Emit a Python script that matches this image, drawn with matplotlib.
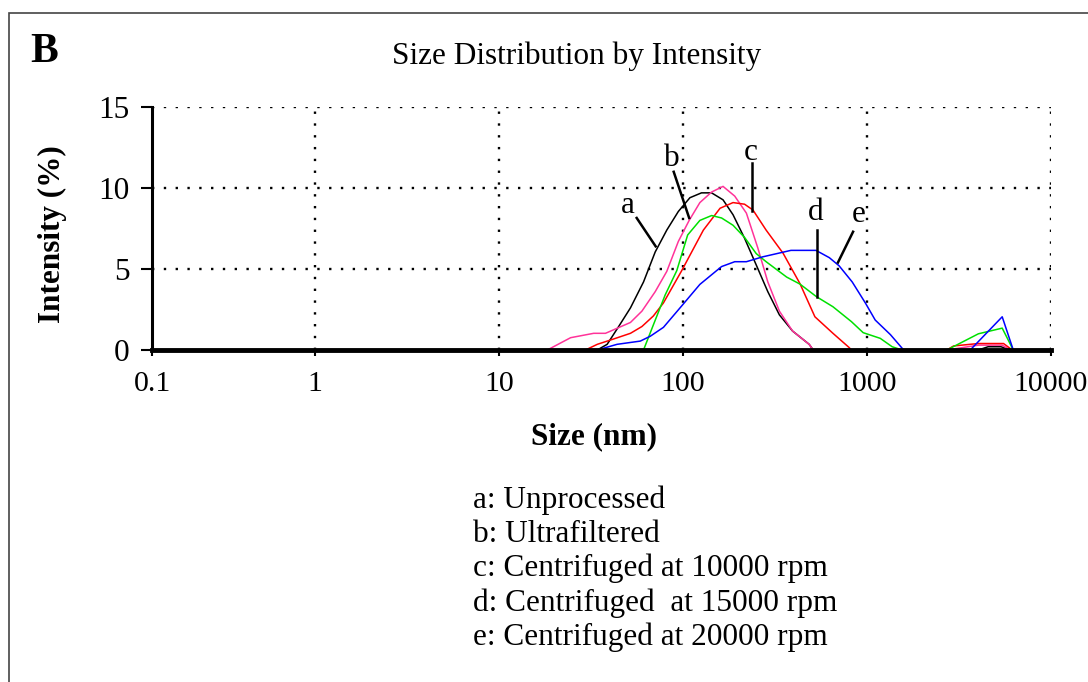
import matplotlib.pyplot as plt
from matplotlib.patches import Rectangle

plt.rcParams['font.family'] = ['Liberation Serif', 'DejaVu Serif']

# size (nm) / intensity (%)
size_a = [34.2, 38.7, 44.7, 51.8, 61, 70.6, 81.6, 94.3, 109, 126, 143, 165, 187, 216, 250, 289, 334, 394, 485, 510,
          4030, 4550, 5350, 6000]
int_a = [0, 0.35, 1.45, 2.6, 4.2, 6.05, 7.4, 8.55, 9.4, 9.7, 9.7, 9.27, 8.35, 6.9, 5.25, 3.6, 2.17, 1.17, 0.35, 0,
         0, 0.2, 0.2, 0]

size_b = [18.3, 24.5, 32.7, 37.9, 51.8, 59.8, 70.6, 81.6, 94.3, 108, 123.5, 143, 165, 191, 221, 255, 289, 334, 394,
          485, 510, 2718, 4030, 5430, 6000]
int_b = [0, 0.76, 1.03, 1.03, 1.7, 2.4, 3.6, 4.85, 6.7, 8.0, 9.1, 9.75, 10.1, 9.5, 8.45, 6.3, 4.2, 2.4, 1.17,
         0.35, 0, 0, 0.3, 0.3, 0]

size_c = [29.5, 34.2, 41.2, 51.8, 59.8, 69, 78.2, 98.4, 129, 159, 187, 216, 240, 283, 350, 432, 521, 653, 800, 823,
          2718, 2955, 4030, 5520, 5990, 6100]
int_c = [0, 0.35, 0.65, 1.03, 1.45, 2.1, 2.9, 4.9, 7.4, 8.75, 9.1, 9.0, 8.64, 7.4, 5.97, 4.1, 2.05, 1.03, 0.15, 0,
         0, 0.25, 0.4, 0.4, 0.1, 0]

size_d = [61, 69, 80, 92.5, 106, 123.5, 143, 162, 187, 216, 250, 283, 366, 432, 530, 653, 823, 953, 1180, 1370, 1550,
          2718, 4030, 5430, 6235]
int_d = [0, 1.55, 3.4, 4.9, 7.1, 8.0, 8.3, 8.15, 7.7, 6.95, 5.95, 5.45, 4.5, 4.07, 3.3, 2.67, 1.75, 1.07, 0.72, 0.2, 0,
         0, 1.0, 1.35, 0]

size_e = [34.2, 43.8, 58.6, 66.4, 78.3, 98, 123.5, 162, 191, 221, 271, 386, 528, 624, 705, 831, 980, 1108, 1340, 1582,
          3640, 5430, 6235]
int_e = [0, 0.35, 0.55, 0.85, 1.4, 2.7, 4.05, 5.15, 5.45, 5.45, 5.75, 6.15, 6.15, 5.7, 5.2, 4.2, 2.9, 1.85, 0.95, 0,
         0, 2.05, 0]

letters = ['a', 'b', 'c', 'd', 'e']
colors = ['black', '#ff3399', 'red', '#00e000', 'blue']
legend_lines = ['a: Unprocessed', 'b: Ultrafiltered', 'c: Centrifuged at 10000 rpm',
                'd: Centrifuged  at 15000 rpm', 'e: Centrifuged at 20000 rpm']

x_ticks = [1, 10, 100, 1000, 10000]
y_ticks = [0, 5, 10, 15]

# label text position, leader line start and end (data coords)
callouts = [
    ((50, 8.95), (56, 8.15), (71, 6.4)),
    ((87, 11.85), (89, 11.0), (108, 8.15)),
    ((234, 12.2), (237, 11.55), (237, 8.6)),
    ((528, 8.5), (535, 7.4), (535, 3.3)),
    ((906, 8.35), (840, 7.3), (695, 5.4)),
]

FS = 22.5

fig = plt.figure(figsize=(10.88, 6.82), dpi=100)
ax = fig.add_axes((152 / 1088, 1 - 350 / 682, 899 / 1088, 243 / 682))

series = [(size_a, int_a), (size_b, int_b), (size_c, int_c), (size_d, int_d), (size_e, int_e)]
for (xs, ys), col in zip(series, colors):
    ax.plot(xs, ys, color=col, lw=1.1, zorder=2)

ax.set_xscale('log')
x_left = 0.13
ax.set_xlim(x_left, 10000)
ax.set_ylim(0, 15)
ax.set_xticks([x_left] + x_ticks)
ax.set_xticklabels(['0.1'] + [str(v) for v in x_ticks])
ax.xaxis.set_minor_locator(plt.NullLocator())
ax.set_yticks(y_ticks)
ax.tick_params(axis='x', length=4, width=1.5, pad=11, labelsize=21.5)
ax.tick_params(axis='y', length=8, width=1.5, pad=8, labelsize=FS)

for v in x_ticks:
    ax.axvline(v, color='black', lw=1.7, ls=(0, (1, 4)), zorder=1)
for v in y_ticks[1:]:
    ax.axhline(v, color='black', lw=1.7, ls=(0, (1, 4)), zorder=1)

for s in ['top', 'right']:
    ax.spines[s].set_visible(False)
ax.spines['left'].set_linewidth(2.2)
ax.spines['bottom'].set_linewidth(3.5)

for letter, (txt, p0, p1) in zip(letters, callouts):
    ax.text(txt[0], txt[1], letter, fontsize=FS, ha='center', va='center')
    ax.plot([p0[0], p1[0]], [p0[1], p1[1]], color='black', lw=1.8, zorder=3)

fig.text(577 / 1088, 1 - 56 / 682, 'Size Distribution by Intensity', fontsize=FS, ha='center', va='center')
fig.text(44 / 1088, 1 - 52 / 682, 'B', fontsize=30, fontweight='bold', ha='center', va='center')
fig.text(52 / 1088, 1 - 234 / 682, 'Intensity (%)', fontsize=FS, fontweight='bold', rotation=90,
         ha='center', va='center')
fig.text(594 / 1088, 1 - 437 / 682, 'Size (nm)', fontsize=FS, fontweight='bold', ha='center', va='center')

for i, line in enumerate(legend_lines):
    fig.text(473 / 1088, 1 - (500 + 34.3 * i) / 682, line, fontsize=FS, ha='left', va='center')

fig.patches.append(Rectangle((9 / 1088, -0.05), 1.2, 1 - 13 / 682 + 0.05, transform=fig.transFigure,
                             fill=False, edgecolor='#444444', lw=1.2))

fig.savefig('out.png', dpi=100)
